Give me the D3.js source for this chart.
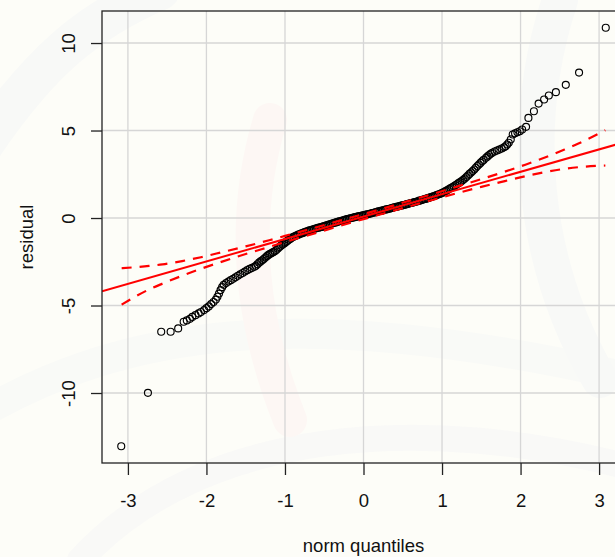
<!DOCTYPE html>
<html>
<head>
<meta charset="utf-8">
<script src="https://cdn.jsdelivr.net/npm/d3@7"></script>
<style>
  body { margin: 0; background: #fdfdf8; }
  svg { display: block; font-family: "Liberation Sans", Arial, sans-serif; }
</style>
</head>
<body>
<svg id="chart"></svg>
<script>
// theoretical normal quantile vs sorted residual
const qqPoints = [
  [-3.085,-13.04],[-2.745,-9.99],[-2.576,-6.5],[-2.456,-6.5],[-2.36,-6.31],[-2.29,-5.93],[-2.25,-5.85],[-2.21,-5.76],
  [-2.18,-5.65],[-2.14,-5.55],[-2.10,-5.45],[-2.07,-5.37],[-2.03,-5.26],[-2.00,-5.15],[-1.97,-5.05],[-1.94,-4.92],
  [-1.91,-4.80],[-1.88,-4.66],[-1.86,-4.50],[-1.84,-4.32],[-1.82,-4.12],[-1.80,-3.95],[-1.78,-3.82],[-1.75,-3.72],
  [-1.72,-3.63],[-1.69,-3.55],[-1.66,-3.47],[-1.63,-3.39],[-1.60,-3.30],[-1.57,-3.22],[-1.54,-3.14],[-1.51,-3.06],
  [-1.48,-2.98],[-1.45,-2.91],[-1.42,-2.85],[-1.39,-2.79],[-1.37,-2.73],[-1.35,-2.64],[-1.33,-2.55],[-1.31,-2.48],
  [-1.29,-2.42],[-1.27,-2.34],[-1.25,-2.26],[-1.23,-2.18],[-1.21,-2.11],[-1.19,-2.05],[-1.17,-2.00],[-1.15,-1.95],
  [-1.13,-1.90],[-1.11,-1.83],[-1.09,-1.74],[-1.07,-1.66],[-1.05,-1.58],[-1.03,-1.51],[-1.01,-1.45],[-0.99,-1.38],
  [-0.97,-1.31],[-0.95,-1.24],[-0.93,-1.18],[-0.91,-1.12],[-0.89,-1.07],[-0.87,-1.03],[-0.85,-0.99],[-0.83,-0.95],
  [-0.81,-0.92],[-0.79,-0.88],[-0.77,-0.85],[-0.75,-0.81],[-0.73,-0.77],[-0.71,-0.74],[-0.69,-0.71],[-0.67,-0.69],
  [-0.65,-0.66],[-0.63,-0.63],[-0.61,-0.60],[-0.59,-0.57],[-0.57,-0.55],[-0.55,-0.53],[-0.53,-0.51],[-0.51,-0.48],
  [-0.49,-0.45],[-0.47,-0.42],[-0.45,-0.39],[-0.43,-0.36],[-0.41,-0.33],[-0.39,-0.30],[-0.37,-0.27],[-0.35,-0.25],
  [-0.33,-0.22],[-0.31,-0.19],[-0.29,-0.17],[-0.27,-0.14],[-0.25,-0.12],[-0.23,-0.09],[-0.21,-0.06],[-0.19,-0.04],
  [-0.17,-0.02],[-0.15,0.00],[-0.13,0.03],[-0.11,0.05],[-0.09,0.07],[-0.07,0.09],[-0.05,0.11],[-0.03,0.13],
  [-0.01,0.15],[0.01,0.17],[0.03,0.19],[0.05,0.21],[0.07,0.23],[0.09,0.26],[0.11,0.28],[0.13,0.30],
  [0.15,0.33],[0.17,0.35],[0.19,0.38],[0.21,0.40],[0.23,0.42],[0.25,0.44],[0.27,0.47],[0.29,0.49],
  [0.31,0.51],[0.33,0.53],[0.35,0.56],[0.37,0.58],[0.39,0.61],[0.41,0.63],[0.43,0.65],[0.45,0.67],
  [0.47,0.70],[0.49,0.72],[0.51,0.74],[0.53,0.76],[0.55,0.79],[0.57,0.81],[0.59,0.84],[0.61,0.86],
  [0.63,0.88],[0.65,0.91],[0.67,0.93],[0.69,0.96],[0.71,0.99],[0.73,1.01],[0.75,1.04],[0.77,1.07],
  [0.79,1.09],[0.81,1.12],[0.83,1.15],[0.85,1.18],[0.87,1.21],[0.89,1.24],[0.91,1.27],[0.93,1.31],
  [0.95,1.34],[0.97,1.37],[0.99,1.41],[1.01,1.45],[1.03,1.50],[1.05,1.55],[1.07,1.60],[1.09,1.66],
  [1.11,1.71],[1.13,1.76],[1.15,1.81],[1.17,1.87],[1.19,1.93],[1.21,1.99],[1.23,2.05],[1.25,2.11],
  [1.27,2.18],[1.29,2.26],[1.31,2.34],[1.33,2.43],[1.35,2.52],[1.37,2.60],[1.39,2.68],[1.41,2.77],
  [1.43,2.87],[1.45,2.97],[1.47,3.06],[1.49,3.15],[1.51,3.24],[1.53,3.32],[1.56,3.44],[1.58,3.52],
  [1.60,3.60],[1.62,3.67],[1.64,3.73],[1.67,3.80],[1.70,3.86],[1.73,3.91],[1.76,3.97],[1.79,4.04],
  [1.81,4.10],[1.83,4.20],[1.85,4.30],[1.875,4.49],[1.90,4.77],[1.93,4.84],[1.96,4.90],[1.99,4.96],
  [2.02,5.06],[2.07,5.21],[2.10,5.72],[2.17,6.10],[2.23,6.54],[2.30,6.77],[2.36,7.00],[2.45,7.19],
  [2.576,7.61],[2.745,8.31],[3.085,10.87]
];

// reference line (intercept, slope)
const fitLine = [0.08, 1.28];

// pointwise confidence envelope
const bandQuantiles = [-3.08,-2.73,-2.56,-2.31,-2.07,-1.8,-1.5,-1.2,-0.9,-0.6,-0.3,0,0.3,0.6,0.9,1.2,1.5,1.8,2.07,2.31,2.56,2.73,3.08];
const bandLower = [-4.95,-4.08,-3.75,-3.30,-2.90,-2.49,-2.06,-1.65,-1.24,-0.85,-0.45,-0.065,0.31,0.69,1.06,1.43,1.78,2.11,2.40,2.62,2.81,2.90,3.00];
const bandUpper = [-2.87,-2.74,-2.65,-2.46,-2.24,-1.95,-1.62,-1.27,-0.90,-0.53,-0.15,0.225,0.61,1.01,1.40,1.81,2.22,2.65,3.06,3.46,3.91,4.24,5.02];

const xTicks = [-3, -2, -1, 0, 1, 2, 3];
const yTicks = [-10, -5, 0, 5, 10];

const width = 615, height = 557;
const plot = { left: 102, top: 11, right: 625, bottom: 463 };

const svg = d3.select("#chart").attr("width", width).attr("height", height);

svg.append("rect").attr("width", width).attr("height", height).attr("fill", "#fdfdf8");

// very faint watermark behind the plot
const mark = svg.append("g").attr("fill", "none").attr("stroke-linecap", "round");
mark.append("path").attr("d", "M-20,150 C40,60 90,20 160,-10").attr("stroke", "#f8f9f7").attr("stroke-width", 40);
mark.append("path").attr("d", "M-30,420 C120,330 300,300 640,380").attr("stroke", "#f9faf7").attr("stroke-width", 30);
mark.append("path").attr("d", "M80,560 C200,430 420,410 640,470").attr("stroke", "#f9f9f7").attr("stroke-width", 26);
mark.append("path").attr("d", "M270,120 C240,220 250,320 290,420").attr("stroke", "#fdf7f4").attr("stroke-width", 34);
mark.append("path").attr("d", "M560,0 C520,120 530,260 600,380").attr("stroke", "#f8f9f7").attr("stroke-width", 36);

const x = d3.scaleLinear().domain([-3.33, 3.33]).range([plot.left, plot.right]);
const y = d3.scaleLinear().domain([-14.0, 11.83]).range([plot.bottom, plot.top]);

svg.append("defs").append("clipPath").attr("id", "clip")
  .append("rect")
  .attr("x", plot.left).attr("y", plot.top)
  .attr("width", plot.right - plot.left).attr("height", plot.bottom - plot.top);

// grid
const grid = svg.append("g").attr("stroke", "#d6d6d6").attr("stroke-width", 1.3);
grid.selectAll(".gx").data(xTicks).enter().append("line")
  .attr("x1", d => x(d)).attr("x2", d => x(d))
  .attr("y1", plot.top).attr("y2", plot.bottom);
grid.selectAll(".gy").data(yTicks).enter().append("line")
  .attr("x1", plot.left).attr("x2", plot.right)
  .attr("y1", d => y(d)).attr("y2", d => y(d));

// points
svg.append("g").selectAll("circle")
  .data(qqPoints)
  .enter()
  .append("circle")
  .attr("cx", d => x(d[0]))
  .attr("cy", d => y(d[1]))
  .attr("r", 3.5)
  .attr("fill", "none")
  .attr("stroke", "#000")
  .attr("stroke-width", 1.15);

// reference line and envelope
const lines = svg.append("g").attr("clip-path", "url(#clip)");
lines.append("line")
  .attr("x1", x(-3.33)).attr("y1", y(fitLine[0] + fitLine[1] * -3.33))
  .attr("x2", x(3.33)).attr("y2", y(fitLine[0] + fitLine[1] * 3.33))
  .attr("stroke", "red").attr("stroke-width", 2);

const bandPath = vals => d3.line()
  .x((d, i) => x(bandQuantiles[i]))
  .y(d => y(d))
  .curve(d3.curveMonotoneX)(vals);

[bandLower, bandUpper].forEach(vals => {
  lines.append("path")
    .attr("d", bandPath(vals))
    .attr("fill", "none")
    .attr("stroke", "red")
    .attr("stroke-width", 2.2)
    .attr("stroke-dasharray", "10,8");
});

// frame
svg.append("rect")
  .attr("x", plot.left).attr("y", plot.top)
  .attr("width", plot.right - plot.left).attr("height", plot.bottom - plot.top)
  .attr("fill", "none").attr("stroke", "#222").attr("stroke-width", 1.3);

// axes
const xAxis = svg.append("g")
  .attr("transform", `translate(0,${plot.bottom})`)
  .call(d3.axisBottom(x).tickValues(xTicks).tickSize(12).tickFormat(d => String(d)));
xAxis.select(".domain").remove();
xAxis.selectAll("line").attr("stroke", "#222").attr("stroke-width", 1.3);
xAxis.selectAll("text").attr("font-size", 18.5).attr("fill", "#111")
  .attr("font-family", "Liberation Sans, Arial, sans-serif")
  .attr("dy", null).attr("y", 43.5);

const yAxis = svg.append("g")
  .attr("transform", `translate(${plot.left},0)`)
  .call(d3.axisLeft(y).tickValues(yTicks).tickSize(11).tickFormat(d => String(d)));
yAxis.select(".domain").remove();
yAxis.selectAll("line").attr("stroke", "#222").attr("stroke-width", 1.3);
yAxis.selectAll("text").attr("font-size", 18.5).attr("fill", "#111")
  .attr("font-family", "Liberation Sans, Arial, sans-serif")
  .attr("x", null).attr("dy", null)
  .attr("text-anchor", "middle")
  .attr("transform", "translate(-27,0) rotate(-90)");

// axis titles
svg.append("text")
  .attr("x", (plot.left + plot.right) / 2)
  .attr("y", 551.5)
  .attr("text-anchor", "middle")
  .attr("font-size", 18.5)
  .attr("fill", "#111")
  .text("norm quantiles");

svg.append("text")
  .attr("transform", `translate(33,${(plot.top + plot.bottom) / 2}) rotate(-90)`)
  .attr("text-anchor", "middle")
  .attr("font-size", 18.5)
  .attr("fill", "#111")
  .text("residual");
</script>
</body>
</html>
